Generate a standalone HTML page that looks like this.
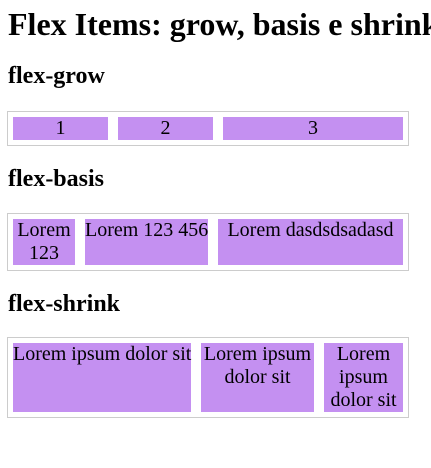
<!DOCTYPE html>
<html><head><style>
html,body{margin:0;padding:0;background:#fff;width:431px;height:468px;overflow:hidden;position:relative;font-family:"Liberation Serif","Times New Roman",serif;color:#000}
.h{position:absolute;left:8px;font-weight:bold;white-space:nowrap;margin:0;line-height:1;font-family:"Liberation Serif",serif}
.c{position:absolute;left:7px;width:400px;border:1px solid #ccc}
.i{position:absolute;background:#c490f1;font-family:"Liberation Serif",serif;font-size:20px;line-height:23px;text-align:center}
</style></head><body>
<div class="h" style="top:8px;font-size:32px">Flex Items: grow, basis e shrink</div>
<div class="h" style="top:64px;font-size:24px">flex-grow</div>
<div class="c" style="top:111px;height:33px"></div>
<div class="i" style="left:13px;top:117px;width:95px;height:23px">1</div>
<div class="i" style="left:118px;top:117px;width:95px;height:23px">2</div>
<div class="i" style="left:223px;top:117px;width:180px;height:23px">3</div>
<div class="h" style="top:167px;font-size:24px">flex-basis</div>
<div class="c" style="top:213px;height:56px"></div>
<div class="i" style="left:13px;top:219px;width:62px;height:46px">Lorem<br>123</div>
<div class="i" style="left:85px;top:219px;width:123px;height:46px;white-space:nowrap">Lorem 123 456</div>
<div class="i" style="left:218px;top:219px;width:185px;height:46px">Lorem dasdsdsadasd</div>
<div class="h" style="top:292px;font-size:24px">flex-shrink</div>
<div class="c" style="top:337px;height:79px"></div>
<div class="i" style="left:13px;top:343px;width:178px;height:69px;white-space:nowrap">Lorem ipsum dolor sit</div>
<div class="i" style="left:201px;top:343px;width:113px;height:69px">Lorem ipsum<br>dolor sit</div>
<div class="i" style="left:324px;top:343px;width:79px;height:69px">Lorem<br>ipsum<br>dolor sit</div>
</body></html>
